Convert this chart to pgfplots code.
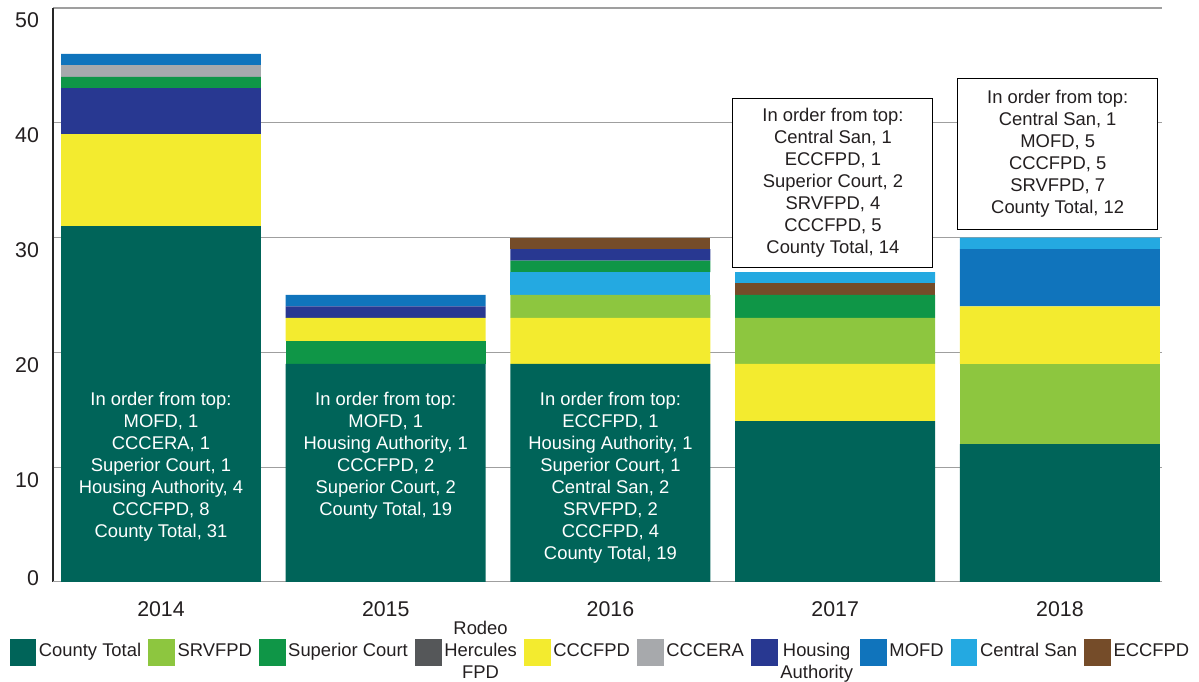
\documentclass[border=0pt]{standalone}
\usepackage{pgfplots}
\pgfplotsset{compat=1.18}
\usepackage{pgfplotstable}
\usepackage{fontspec}
\setmainfont{Liberation Sans}
\definecolor{cCT}{HTML}{006459}
\definecolor{cSRV}{HTML}{8DC63F}
\definecolor{cSC}{HTML}{0F9647}
\definecolor{cRH}{HTML}{555759}
\definecolor{cCCC}{HTML}{F3EB2F}
\definecolor{cERA}{HTML}{A7A9AC}
\definecolor{cHA}{HTML}{283891}
\definecolor{cMOFD}{HTML}{1074BC}
\definecolor{cCS}{HTML}{24A9E1}
\definecolor{cECC}{HTML}{754C29}
\definecolor{cTxt}{HTML}{231F20}
\pgfplotstableread{
x L1 L2 L3 L4 L5 L6 L7 L8 L9 L10 L11 L12 L13 L14
0 31 0 0 8 0 0 4 1 0 0 1 0 1 0
1 19 2 0 2 0 0 0 0 0 1 0 0 1 0
2 19 0 0 4 2 2 0 1 0 1 0 1 0 0
3 14 0 0 5 4 0 0 2 1 0 0 0 0 1
4 12 0 7 5 0 0 0 0 0 0 0 0 5 1
}\data
\pgfplotsset{sq legend/.style={legend image code/.code={\fill[##1] (0pt,-9.9pt) rectangle (19.8pt,9.9pt);}}}
\newcommand{\lf}{\fontsize{13.8}{16.5}\selectfont}
\begin{document}
\begin{tikzpicture}
\begin{axis}[
  scale only axis, width=831.75pt, height=430.5pt,
  ybar stacked, bar width=150pt,
  xmin=-0.4805, xmax=4.454, ymin=0, ymax=50,
  xtick={0,1,2,3,4}, xticklabels={2014,2015,2016,2017,2018},
  ytick={10,20,30,40,50},
  extra y ticks={0},
  extra y tick style={yticklabel style={yshift=12.5pt}},
  axis x line*=bottom, axis y line*=left,
  x axis line style={draw=gray!75, line width=0.8pt},
  y axis line style={draw=black!85, line width=0.8pt},
  ymajorgrids, major grid style={draw=gray!75, line width=0.8pt},
  major tick length=0pt,
  /pgf/number format/assume math mode=true,
  tick label style={text=cTxt, font=\fontsize{16}{18}\selectfont},
  yticklabel style={xshift=-7pt, yshift=-9.5pt},
  xticklabel style={yshift=-11pt},
  clip=false,
  legend columns=10,
  legend style={draw=none, fill=none, at={(0.494,-0.1028)}, anchor=center,
    font=\lf, text=cTxt, column sep=0pt,
    /tikz/every even column/.append style={column sep=3.5pt},
    cells={anchor=mid west, inner xsep=2pt}},
]
\addplot[fill=cCT, draw=none, forget plot] table[x=x,y=L1] {\data};
\addplot[fill=cSC, draw=none, forget plot] table[x=x,y=L2] {\data};
\addplot[fill=cSRV, draw=none, forget plot] table[x=x,y=L3] {\data};
\addplot[fill=cCCC, draw=none, forget plot] table[x=x,y=L4] {\data};
\addplot[fill=cSRV, draw=none, forget plot] table[x=x,y=L5] {\data};
\addplot[fill=cCS, draw=none, forget plot] table[x=x,y=L6] {\data};
\addplot[fill=cHA, draw=none, forget plot] table[x=x,y=L7] {\data};
\addplot[fill=cSC, draw=none, forget plot] table[x=x,y=L8] {\data};
\addplot[fill=cECC, draw=none, forget plot] table[x=x,y=L9] {\data};
\addplot[fill=cHA, draw=none, forget plot] table[x=x,y=L10] {\data};
\addplot[fill=cERA, draw=none, forget plot] table[x=x,y=L11] {\data};
\addplot[fill=cECC, draw=none, forget plot] table[x=x,y=L12] {\data};
\addplot[fill=cMOFD, draw=none, forget plot] table[x=x,y=L13] {\data};
\addplot[fill=cCS, draw=none, forget plot] table[x=x,y=L14] {\data};

\addlegendimage{sq legend, fill=cCT, draw=none}\addlegendentry{County Total}
\addlegendimage{sq legend, fill=cSRV, draw=none}\addlegendentry{SRVFPD}
\addlegendimage{sq legend, fill=cSC, draw=none}\addlegendentry{Superior Court}
\addlegendimage{sq legend, fill=cRH, draw=none}\addlegendentry{\raisebox{16.5pt}{\begin{tabular}[t]{@{}c@{}}Rodeo\\Hercules\\FPD\end{tabular}}}
\addlegendimage{sq legend, fill=cCCC, draw=none}\addlegendentry{CCCFPD}
\addlegendimage{sq legend, fill=cERA, draw=none}\addlegendentry{CCCERA}
\addlegendimage{sq legend, fill=cHA, draw=none}\addlegendentry{\begin{tabular}[t]{@{}c@{}}Housing\\Authority\end{tabular}}
\addlegendimage{sq legend, fill=cMOFD, draw=none}\addlegendentry{MOFD}
\addlegendimage{sq legend, fill=cCS, draw=none}\addlegendentry{Central San}
\addlegendimage{sq legend, fill=cECC, draw=none}\addlegendentry{ECCFPD}

\coordinate (t0) at (axis cs:0,10);
\coordinate (t1) at (axis cs:1,11);
\coordinate (t2) at (axis cs:2,9.09);
\coordinate (t3) at (axis cs:2.99,34.74);
\coordinate (t4) at (axis cs:3.99,37.26);
\path (rel axis cs:-0.0478,-0.1742) rectangle (rel axis cs:1.0334,1.0139);
\end{axis}
\node[align=center, text=white, font=\lf] at (t0) {In order from top:\\MOFD, 1\\CCCERA, 1\\Superior Court, 1\\Housing Authority, 4\\CCCFPD, 8\\County Total, 31};
\node[align=center, text=white, font=\lf] at (t1) {In order from top:\\MOFD, 1\\Housing Authority, 1\\CCCFPD, 2\\Superior Court, 2\\County Total, 19};
\node[align=center, text=white, font=\lf] at (t2) {In order from top:\\ECCFPD, 1\\Housing Authority, 1\\Superior Court, 1\\Central San, 2\\SRVFPD, 2\\CCCFPD, 4\\County Total, 19};
\node[align=center, text=cTxt, font=\lf, draw=black, fill=white, line width=0.8pt, minimum width=150pt, minimum height=126.75pt, inner sep=0pt] at (t3) {In order from top:\\Central San, 1\\ECCFPD, 1\\Superior Court, 2\\SRVFPD, 4\\CCCFPD, 5\\County Total, 14};
\node[align=center, text=cTxt, font=\lf, draw=black, fill=white, line width=0.8pt, minimum width=150pt, minimum height=113.25pt, inner sep=0pt] at (t4) {In order from top:\\Central San, 1\\MOFD, 5\\CCCFPD, 5\\SRVFPD, 7\\County Total, 12};
\end{tikzpicture}
\end{document}
